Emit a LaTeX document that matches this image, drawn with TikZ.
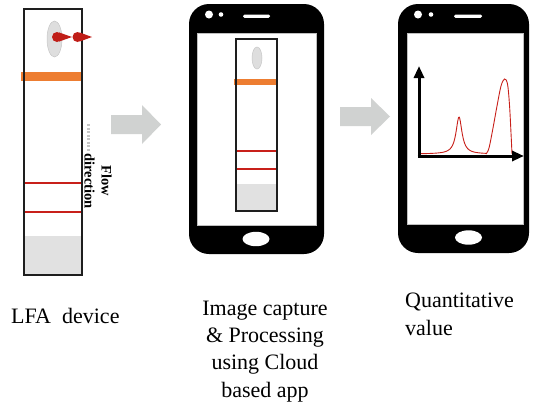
\documentclass[tikz,border=0pt]{standalone}
\usepackage{fontspec}
\setmainfont{Liberation Serif}
\usetikzlibrary{arrows.meta}

\definecolor{blockgray}{HTML}{D0D2D1}
\definecolor{padgray}{HTML}{E1E1E1}
\definecolor{spotgray}{HTML}{DEDEDE}
\definecolor{conjorange}{HTML}{ED7D31}
\definecolor{linered}{HTML}{C8201A}
\definecolor{dropred}{HTML}{C01E18}
\definecolor{framegray}{HTML}{1E1E1E}

\tikzset{
  stripframe/.style={draw=framegray, line width=2pt},
  padfill/.style={fill=padgray},
  spotfill/.style={fill=spotgray, draw=gray!45, line width=0.5pt},
  conjbar/.style={fill=conjorange},
  testline/.style={draw=linered, line width=1.6pt},
  blockarrow/.style={fill=blockgray},
  phonebody/.style={fill=black, rounded corners=20pt},
  screenfill/.style={fill=white, draw=gray!50, line width=0.4pt},
  axisline/.style={line width=3pt, -{Triangle[length=12pt,width=10pt]}},
  caption/.style={font=\fontsize{22}{27.3}\selectfont, inner sep=0pt},
  flowlabel/.style={font=\fontsize{14.5}{17}\selectfont\bfseries, align=center, rotate=-90, inner sep=0pt}
}

% a phone: outer box, screen, two camera dots, speaker slot, home button
\newcommand{\phoneshape}[9]{%
  \fill[phonebody] (#1) rectangle (#2);
  \filldraw[screenfill] (#3) rectangle (#4);
  \fill[white] (#5) circle (4);
  \fill[white] (#6) circle (2.3);
  \fill[white, rounded corners=1.5pt] (#7) rectangle (#8);
  \fill[white] (#9) ellipse [x radius=13.5, y radius=7.2];
}

\begin{document}
\begin{tikzpicture}[x=1pt, y=-1pt]
\useasboundingbox (0,0) rectangle (537,408);

% ---------- lateral flow strip ----------
\fill[padfill] (25,236) rectangle (81,274);
\filldraw[spotfill] (54.5,39) ellipse [x radius=7.5, y radius=18];
\fill[conjbar] (21,72) rectangle (82,81);
\draw[testline] (25,183) -- (81,183);
\draw[testline] (25,212) -- (81,212);
\draw[stripframe] (24,9) rectangle (82,275);
% sample drops
\fill[dropred] (57,37) circle (5);
\fill[dropred] (59,32.4) -- (72,37) -- (59,41.6) -- cycle;
\fill[dropred] (77.5,37) circle (5);
\fill[dropred] (79.5,32.4) -- (92,37) -- (79.5,41.6) -- cycle;
% flow direction
\coordinate (flowA) at (88,124);
\coordinate (flowB) at (88,151);
\draw[gray!45, line width=3pt, dash pattern=on 2.2pt off 1.3pt] (flowA) -- (flowB);
\node[flowlabel] (flow) at (98,181) {Flow\\direction};

% ---------- block arrows ----------
\fill[blockarrow] (111,115) -- (142,115) -- (142,105) -- (161,124.5) -- (142,144) -- (142,134) -- (111,134) -- cycle;
\fill[blockarrow] (340,107) -- (371,107) -- (371,98) -- (390,116.5) -- (371,135) -- (371,126) -- (340,126) -- cycle;

% ---------- phone with captured strip ----------
\phoneshape{189,4}{324,254}{197,33}{316,225}{209,14.5}{221,14.5}{243,14.5}{270,17.8}{256,239}
\fill[padfill] (237,184) rectangle (276,210);
\filldraw[spotfill] (257,58) ellipse [x radius=5, y radius=11];
\fill[conjbar] (234,79) rectangle (277,85);
\draw[linered, line width=1.3pt] (237,151) -- (276,151);
\draw[linered, line width=1.3pt] (237,169) -- (276,169);
\draw[framegray, line width=1.6pt] (236,39) rectangle (277,211);

% ---------- phone with signal profile ----------
\phoneshape{398,4}{529,253}{407,33}{523,224}{418,14.5}{431,14.5}{454,14.5}{482,17.8}{468.5,237.5}
\coordinate (origin) at (419,156);
\coordinate (ytip) at (419,66);
\coordinate (xtip) at (524,156);
\draw[linered, line width=0.9pt, smooth, samples=120, domain=421:486]
  plot (\x, {154 - 37/(1+((\x-459)/3.6)^2)});
\draw[linered, line width=0.9pt] plot[smooth, tension=0.55] coordinates
  {(486,154) (489,148) (493,128) (497,106) (501,86) (504.5,79) (507.5,84) (509.5,105) (511,133) (512,154)};
\draw[axisline] (origin) -- (ytip);
\draw[axisline] ([xshift=-1.5pt]origin) -- (xtip);

% ---------- captions (multi-line nodes sit on their last baseline) ----------
\node[caption, anchor=base west] (capA) at (11,323) {LFA\ \ device};
\node[caption, anchor=base, align=center] (capB) at (265,397) {Image capture\\\& Processing\\using Cloud\\based app};
\node[caption, anchor=base west, align=left] (capC) at (405,335) {Quantitative\\value};
\end{tikzpicture}
\end{document}
